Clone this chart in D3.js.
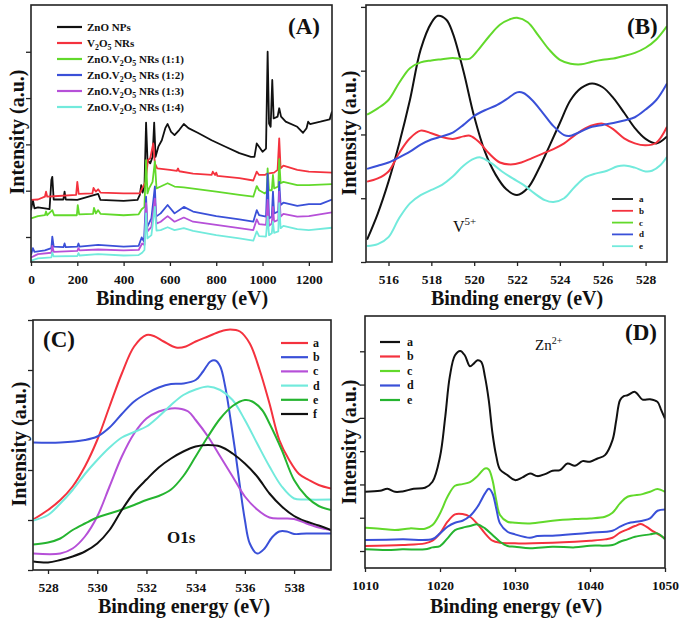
<!DOCTYPE html>
<html><head><meta charset="utf-8">
<script src="https://cdn.jsdelivr.net/npm/d3@7"></script>
<style>
body{margin:0;background:#fff}
svg{display:block}
text{font-family:"Liberation Serif","Times New Roman",serif;}
</style>
</head><body>
<svg id="chart" width="685" height="618"></svg>
<script>
// ---------- Panel A : survey spectra (Binding energy eV, intensity a.u.) ----------
const A_xTicks = [0,200,400,600,800,1000,1200];
const A_yTicks = [0,1,2,3,4];
const A_ZnO = [[0,0.58],[8,0.80],[15,0.62],[30,0.64],[60,0.62],[80,0.60],[88,1.23],[92,1.30],[98,0.81],[140,0.81],[145,0.98],[150,0.81],[200,0.80],[290,0.93],[300,0.80],[400,0.78],[460,0.80],[470,0.91],[476,1.12],[482,0.96],[490,1.09],[497,2.47],[503,1.66],[515,1.59],[525,1.73],[532,2.47],[538,1.73],[550,1.95],[565,2.09],[580,2.35],[590,2.44],[605,2.27],[620,2.20],[640,2.31],[660,2.44],[680,2.35],[720,2.25],[780,2.09],[840,1.95],[900,1.81],[950,1.73],[965,1.73],[975,2.02],[985,1.95],[1000,1.84],[1015,1.91],[1022,4.0],[1028,2.45],[1035,2.38],[1042,3.39],[1048,2.56],[1065,2.60],[1072,2.78],[1080,2.60],[1100,2.49],[1150,2.38],[1175,2.25],[1190,2.35],[1197,2.49],[1205,2.44],[1250,2.49],[1290,2.54],[1300,2.71]];
const A_V2O5 = [[0,0.80],[30,0.81],[60,0.87],[65,0.98],[70,0.87],[100,0.88],[195,0.91],[200,1.19],[206,0.93],[265,0.94],[270,1.06],[280,0.98],[290,1.03],[300,0.96],[400,0.94],[470,0.94],[480,1.05],[495,1.19],[505,1.66],[515,1.70],[528,2.02],[535,1.59],[545,1.48],[600,1.45],[630,1.43],[635,1.48],[640,1.42],[700,1.37],[780,1.34],[785,1.41],[795,1.34],[800,1.39],[805,1.32],[900,1.27],[960,1.22],[975,1.41],[985,1.34],[1010,1.34],[1020,1.37],[1050,1.39],[1065,1.45],[1072,2.13],[1078,1.48],[1090,1.54],[1150,1.45],[1200,1.41],[1300,1.39]];
const A_R11 = [[0,0.40],[30,0.45],[60,0.47],[65,0.55],[70,0.47],[92,0.58],[100,0.47],[198,0.47],[202,0.69],[208,0.49],[268,0.50],[272,0.63],[280,0.51],[290,0.58],[300,0.50],[400,0.47],[465,0.49],[478,0.60],[490,0.65],[497,1.66],[503,0.94],[510,1.05],[525,1.19],[535,1.63],[542,1.05],[560,1.09],[590,1.16],[620,1.09],[660,1.07],[800,0.98],[900,0.91],[960,0.87],[975,1.10],[985,1.01],[1010,0.94],[1018,0.98],[1022,1.48],[1028,1.01],[1040,1.01],[1045,1.34],[1050,1.05],[1068,1.09],[1072,1.68],[1078,1.16],[1090,1.19],[1150,1.12],[1200,1.12],[1300,1.14]];
const A_R12 = [[0,-0.39],[8,-0.24],[15,-0.32],[60,-0.29],[88,-0.24],[92,0.01],[98,-0.21],[140,-0.22],[145,-0.14],[150,-0.22],[200,-0.21],[205,-0.14],[210,-0.21],[290,-0.17],[400,-0.21],[465,-0.19],[478,-0.01],[488,-0.10],[497,0.87],[502,0.22],[520,0.40],[535,1.09],[540,0.44],[560,0.51],[590,0.69],[620,0.51],[660,0.65],[700,0.55],[800,0.45],[900,0.38],[960,0.33],[975,0.58],[985,0.47],[1015,0.44],[1022,1.37],[1028,0.40],[1040,0.44],[1045,0.98],[1050,0.51],[1068,0.55],[1072,1.19],[1078,0.69],[1090,0.74],[1150,0.67],[1200,0.71],[1250,0.71],[1300,0.81]];
const A_R13 = [[0,-0.44],[30,-0.37],[88,-0.34],[92,-0.19],[98,-0.32],[200,-0.30],[205,-0.24],[210,-0.29],[290,-0.27],[400,-0.29],[465,-0.28],[480,-0.14],[490,-0.17],[497,0.73],[503,0.12],[520,0.22],[535,0.83],[542,0.29],[560,0.33],[590,0.45],[620,0.33],[660,0.42],[700,0.33],[800,0.26],[900,0.19],[960,0.15],[975,0.38],[985,0.28],[1015,0.26],[1022,0.80],[1028,0.24],[1040,0.29],[1045,0.65],[1050,0.33],[1068,0.37],[1072,0.98],[1078,0.44],[1090,0.50],[1150,0.44],[1200,0.45],[1300,0.53]];
const A_R14 = [[0,-0.51],[30,-0.46],[88,-0.44],[92,-0.34],[98,-0.42],[200,-0.41],[205,-0.35],[210,-0.40],[290,-0.37],[400,-0.40],[465,-0.39],[480,-0.34],[490,-0.28],[497,0.51],[503,-0.03],[520,0.04],[535,0.65],[542,0.14],[560,0.15],[590,0.21],[620,0.15],[660,0.19],[700,0.13],[800,0.04],[900,-0.03],[960,-0.08],[975,0.12],[985,0.02],[1015,0.01],[1022,0.44],[1028,0.04],[1040,0.08],[1045,0.33],[1050,0.09],[1068,0.12],[1072,0.73],[1078,0.19],[1090,0.24],[1150,0.17],[1200,0.15],[1300,0.20]];
const A_legend = ["ZnO NPs","V|2|O|5| NRs","ZnO.V|2|O|5| NRs (1:1)","ZnO.V|2|O|5| NRs (1:2)","ZnO.V|2|O|5| NRs (1:3)","ZnO.V|2|O|5| NRs (1:4)"];

// ---------- Panel B : V 2p ----------
const B_xTicks = [516,518,520,522,524,526,528];
const B_yTicks = [0,1,2,3,4];
const B_a = [[515.0,0.35],[515.5,0.76],[516.0,1.26],[516.5,1.86],[517.0,2.54],[517.5,3.33],[518.0,3.75],[518.3,3.86],[518.7,3.80],[519.0,3.59],[519.5,2.99],[520.0,2.28],[520.5,1.73],[521.0,1.37],[521.5,1.14],[522.0,1.05],[522.5,1.16],[523.0,1.45],[523.5,1.81],[524.0,2.18],[524.5,2.54],[525.0,2.73],[525.5,2.80],[526.0,2.74],[526.5,2.57],[527.0,2.34],[527.5,2.10],[528.0,1.93],[528.5,1.86],[529.0,1.97]];
const B_b = [[515.0,1.26],[515.5,1.31],[516.0,1.42],[516.5,1.71],[517.0,1.94],[517.5,2.06],[518.0,2.02],[518.5,1.96],[519.0,1.93],[519.5,1.97],[519.8,1.98],[520.2,1.89],[520.7,1.70],[521.2,1.56],[521.7,1.53],[522.2,1.56],[522.7,1.63],[523.2,1.70],[523.7,1.77],[524.2,1.86],[524.7,1.99],[525.2,2.10],[525.7,2.16],[526.0,2.17],[526.5,2.08],[527.0,1.94],[527.5,1.86],[528.0,1.83],[528.5,1.87],[529.0,2.12]];
const B_c = [[515.0,2.31],[515.5,2.41],[516.0,2.54],[516.5,2.81],[517.0,3.04],[517.5,3.13],[518.0,3.16],[518.5,3.18],[519.0,3.20],[519.5,3.18],[519.8,3.19],[520.2,3.33],[520.7,3.54],[521.2,3.72],[521.7,3.81],[522.0,3.83],[522.5,3.76],[523.0,3.55],[523.5,3.33],[524.0,3.17],[524.5,3.11],[525.0,3.10],[525.5,3.14],[526.0,3.17],[526.5,3.19],[527.0,3.23],[527.5,3.28],[528.0,3.36],[528.5,3.49],[529.0,3.70]];
const B_d = [[515.0,1.46],[515.5,1.51],[516.0,1.56],[516.5,1.64],[517.0,1.73],[517.5,1.84],[518.0,1.92],[518.5,1.97],[519.0,2.03],[519.5,2.15],[520.0,2.29],[520.5,2.38],[521.0,2.45],[521.5,2.55],[522.0,2.66],[522.3,2.65],[522.7,2.54],[523.2,2.34],[523.7,2.13],[524.2,1.99],[524.5,1.98],[525.0,2.05],[525.5,2.12],[526.0,2.15],[526.5,2.18],[527.0,2.22],[527.5,2.27],[528.0,2.39],[528.5,2.54],[529.0,2.80]];
const B_e = [[515.0,0.25],[515.5,0.28],[516.0,0.39],[516.5,0.69],[517.0,0.92],[517.5,1.05],[518.0,1.13],[518.5,1.21],[519.0,1.34],[519.5,1.51],[520.0,1.62],[520.3,1.64],[520.8,1.55],[521.3,1.42],[521.8,1.31],[522.3,1.21],[522.8,1.08],[523.3,0.97],[523.7,0.94],[524.2,1.00],[524.7,1.18],[525.2,1.33],[525.7,1.39],[526.2,1.43],[526.7,1.50],[527.1,1.51],[527.5,1.48],[528.0,1.42],[528.3,1.43],[528.7,1.52],[529.0,1.65]];
const B_legend = ["a","b","c","d","e"];

// ---------- Panel C : O 1s ----------
const C_xTicks = [528,530,532,534,536,538];
const C_yTicks = [0,1,2,3,4,5];
const C_a = [[527.4,1.01],[528.0,1.20],[528.5,1.40],[529.0,1.67],[529.5,2.07],[530.0,2.60],[530.5,3.27],[531.0,3.93],[531.5,4.47],[532.0,4.70],[532.3,4.68],[532.7,4.57],[533.2,4.45],[533.6,4.47],[534.0,4.57],[534.5,4.67],[535.0,4.77],[535.4,4.81],[535.8,4.77],[536.2,4.53],[536.6,4.00],[537.0,3.33],[537.4,2.60],[537.8,2.20],[538.2,1.92],[538.6,1.80],[539.0,1.70],[539.5,1.63]];
const C_b = [[527.4,2.55],[528.5,2.55],[529.5,2.60],[530.0,2.67],[530.5,2.85],[531.0,3.12],[531.5,3.37],[532.0,3.53],[532.5,3.65],[533.0,3.72],[533.5,3.73],[534.0,3.80],[534.3,3.97],[534.6,4.17],[534.8,4.19],[535.0,4.07],[535.2,3.67],[535.4,3.07],[535.6,2.40],[535.8,1.67],[536.0,1.00],[536.2,0.53],[536.5,0.33],[536.8,0.43],[537.1,0.65],[537.4,0.77],[537.7,0.77],[538.0,0.72],[538.5,0.73],[539.5,0.73]];
const C_c = [[527.4,0.33],[528.5,0.33],[529.0,0.43],[529.5,0.67],[530.0,1.07],[530.5,1.67],[531.0,2.27],[531.5,2.73],[532.0,3.03],[532.5,3.17],[533.0,3.23],[533.3,3.23],[533.7,3.17],[534.0,3.00],[534.5,2.67],[535.0,2.27],[535.5,1.87],[536.0,1.47],[536.5,1.21],[537.0,1.05],[537.5,1.03],[538.0,1.02],[538.5,0.93],[539.0,0.85],[539.5,0.80]];
const C_d = [[527.4,0.99],[528.0,1.10],[528.5,1.33],[529.0,1.60],[529.5,1.92],[530.0,2.20],[530.5,2.45],[531.0,2.65],[531.5,2.76],[532.0,2.87],[532.5,3.07],[533.0,3.30],[533.5,3.50],[534.0,3.61],[534.5,3.67],[535.0,3.60],[535.5,3.40],[536.0,3.00],[536.5,2.53],[537.0,2.07],[537.5,1.67],[538.0,1.43],[538.5,1.41],[539.5,1.41]];
const C_e = [[527.4,0.51],[528.0,0.55],[528.5,0.63],[529.0,0.80],[529.5,0.93],[530.0,1.05],[530.5,1.13],[531.0,1.21],[531.5,1.30],[532.0,1.40],[532.5,1.48],[533.0,1.61],[533.5,1.88],[534.0,2.27],[534.5,2.67],[535.0,3.03],[535.5,3.28],[536.0,3.40],[536.3,3.37],[536.7,3.20],[537.0,2.93],[537.5,2.40],[538.0,1.80],[538.5,1.47],[539.0,1.28],[539.5,1.20]];
const C_f = [[527.4,0.17],[528.0,0.15],[528.5,0.20],[529.0,0.27],[529.5,0.37],[530.0,0.53],[530.5,0.80],[531.0,1.20],[531.5,1.55],[532.0,1.81],[532.5,2.05],[533.0,2.23],[533.5,2.37],[534.0,2.47],[534.5,2.50],[535.0,2.47],[535.5,2.33],[536.0,2.13],[536.5,1.87],[537.0,1.53],[537.5,1.27],[538.0,1.08],[538.5,0.97],[539.0,0.89],[539.5,0.80]];
const C_legend = ["a","b","c","d","e","f"];

// ---------- Panel D : Zn 2p ----------
const D_xTicks = [1010,1020,1030,1040,1050];
const D_yTicks = [0,1,2,3,4,5,6];
const D_a = [[1010,1.78],[1012,1.81],[1013,1.87],[1014,1.78],[1015,1.79],[1016.5,1.87],[1018,1.90],[1019,2.08],[1020,2.83],[1020.7,4.03],[1021.3,5.23],[1022,5.88],[1022.7,6.01],[1023.3,5.88],[1024,5.55],[1024.5,5.63],[1025,5.73],[1025.5,5.68],[1026,5.23],[1026.5,4.53],[1027,3.53],[1027.5,2.85],[1028,2.45],[1029,2.28],[1030,2.13],[1031,2.21],[1032,2.33],[1033,2.25],[1034,2.31],[1035,2.41],[1036,2.43],[1037,2.63],[1038,2.56],[1039,2.70],[1040,2.68],[1041,2.78],[1042,2.88],[1043,3.33],[1043.5,3.93],[1044,4.53],[1044.5,4.65],[1045,4.68],[1046,4.78],[1047,4.55],[1048,4.56],[1049,4.48],[1049.5,4.23],[1050,3.98]];
const D_b = [[1010,0.15],[1015,0.18],[1018,0.23],[1019,0.31],[1020,0.53],[1021,0.88],[1022,1.10],[1023,1.11],[1024,1.03],[1025,0.81],[1026,0.53],[1027,0.31],[1028,0.25],[1030,0.23],[1035,0.25],[1038,0.28],[1040,0.31],[1042,0.35],[1043,0.40],[1044,0.55],[1045,0.65],[1046,0.75],[1046.8,0.81],[1047.5,0.73],[1048.5,0.58],[1049.5,0.45],[1050,0.38]];
const D_c = [[1010,0.70],[1012,0.67],[1014,0.63],[1016,0.68],[1018,0.67],[1019,0.78],[1020,1.13],[1021,1.63],[1022,1.96],[1023,2.01],[1024,2.07],[1025,2.25],[1026,2.48],[1026.5,2.45],[1027,2.13],[1027.5,1.53],[1028,1.08],[1029,0.88],[1030,0.85],[1032,0.83],[1035,0.91],[1038,0.96],[1040,0.98],[1042,1.03],[1043,1.15],[1044,1.43],[1045,1.63],[1047,1.71],[1048,1.78],[1049,1.86],[1050,1.78]];
const D_d = [[1010,0.33],[1015,0.35],[1019,0.36],[1020,0.53],[1021,0.73],[1022,0.85],[1023,0.91],[1024,1.05],[1025,1.33],[1026,1.73],[1026.5,1.87],[1027,1.73],[1027.5,1.28],[1028,0.83],[1029,0.58],[1030,0.50],[1032,0.40],[1033,0.45],[1035,0.46],[1038,0.51],[1040,0.55],[1043,0.61],[1044,0.73],[1045,0.83],[1047,0.91],[1048,0.98],[1049,1.21],[1050,1.25]];
const D_e = [[1010,0.05],[1013,0.03],[1015,0.05],[1018,0.05],[1019,0.11],[1020,0.15],[1021,0.38],[1022,0.63],[1023,0.70],[1024,0.75],[1025,0.80],[1026,0.68],[1027,0.48],[1028,0.28],[1029,0.15],[1030,0.13],[1032,0.08],[1035,0.13],[1038,0.11],[1040,0.16],[1043,0.18],[1044,0.28],[1045,0.35],[1046,0.43],[1048,0.50],[1049,0.53],[1050,0.35]];
const D_legend = ["a","b","c","d","e"];

// ---------- colours ----------
const BLACK="#111111", RED="#f4323e", LIME="#62d92b", BLUE="#3a50d8", MAGENTA="#b650d8", CYAN="#72eadc", GREEN="#25b430";

const svg = d3.select("#chart");
const defs = svg.append("defs");

function richText(sel, str, size){
  // segments separated by | ; odd segments are subscripts
  const parts = str.split("|");
  let lowered = false;
  parts.forEach((p,i)=>{
    if(!p) return;
    const t = sel.append("tspan").text(p);
    if(i%2===1){
      t.attr("dy", lowered ? 0 : size*0.3).attr("font-size", size*0.72);
      lowered = true;
    } else {
      if(lowered){ t.attr("dy", -size*0.3); lowered = false; }
    }
  });
}

function panel(cfg){
  const {box, xDom, yDom, xTicks, yTicks, series, curve, id} = cfg;
  const x = d3.scaleLinear().domain(xDom).range([box.l, box.r]);
  const y = d3.scaleLinear().domain(yDom).range([box.b, box.t]);
  const g = svg.append("g");
  defs.append("clipPath").attr("id","clip"+id).append("rect")
    .attr("x",box.l).attr("y",box.t).attr("width",box.r-box.l).attr("height",box.b-box.t);
  const line = d3.line().x(d=>x(d[0])).y(d=>y(d[1])).curve(curve);
  const cg = g.append("g").attr("clip-path","url(#clip"+id+")");
  series.forEach(s=>{
    cg.append("path").datum(s.data).attr("d",line).attr("fill","none")
      .attr("stroke",s.color).attr("stroke-width",s.w||2).attr("stroke-linejoin","round");
  });
  // axes
  const xa = g.append("g").attr("transform",`translate(0,${box.b})`)
    .call(d3.axisBottom(x).tickValues(xTicks).tickSize(4).tickPadding(8).tickFormat(d3.format("d")));
  xa.select(".domain").remove();
  xa.selectAll("line").attr("stroke","#222").attr("stroke-width",1.3);
  xa.selectAll("text").attr("font-family","Liberation Serif, serif").attr("font-weight","bold")
    .attr("font-size",13.5).attr("fill","#111");
  const ya = g.append("g").attr("transform",`translate(${box.l},0)`)
    .call(d3.axisLeft(y).tickValues(yTicks).tickSize(5).tickFormat(""));
  ya.select(".domain").remove();
  ya.selectAll("line").attr("stroke","#222").attr("stroke-width",1.3);
  g.append("rect").attr("x",box.l).attr("y",box.t).attr("width",box.r-box.l).attr("height",box.b-box.t)
    .attr("fill","none").attr("stroke","#222").attr("stroke-width",1.6);
  // titles
  g.append("text").attr("x",cfg.xt[0]).attr("y",cfg.xt[1]).attr("text-anchor","middle")
    .attr("font-weight","bold").attr("font-size",20).attr("fill","#111").text("Binding energy (eV)");
  g.append("text").attr("transform",`translate(${cfg.yt[0]},${cfg.yt[1]}) rotate(-90)`).attr("text-anchor","middle")
    .attr("font-weight","bold").attr("font-size",20).attr("fill","#111").text("Intensity (a.u.)");
  g.append("text").attr("x",cfg.lab[0]).attr("y",cfg.lab[1]).attr("font-weight","bold")
    .attr("font-size",23).attr("fill","#111").text(cfg.label);
  // legend
  const L = cfg.legend;
  L.names.forEach((n,i)=>{
    const yy = L.y + i*L.dy;
    g.append("line").attr("x1",L.x).attr("x2",L.x+L.len).attr("y1",yy).attr("y2",yy)
      .attr("stroke",series[i].color).attr("stroke-width",L.sw||2.2);
    const t = g.append("text").attr("x",L.x+L.len+L.gap).attr("y",yy+L.fs*0.33)
      .attr("font-weight","bold").attr("font-size",L.fs).attr("fill","#111");
    richText(t,n,L.fs);
  });
  return {x,y,g};
}

// Panel A
const pA = panel({id:"A", box:{l:31,r:332,t:5,b:262}, xDom:[0,1300], yDom:[-0.54,5.01],
  xTicks:A_xTicks, yTicks:A_yTicks, curve:d3.curveLinear,
  series:[{data:A_ZnO,color:BLACK,w:1.8},{data:A_V2O5,color:RED,w:1.8},{data:A_R11,color:LIME,w:1.8},
          {data:A_R12,color:BLUE,w:1.8},{data:A_R13,color:MAGENTA,w:1.8},{data:A_R14,color:CYAN,w:1.8}],
  xt:[182,305], yt:[24,132], lab:[288,34], label:"(A)",
  legend:{names:A_legend,x:57,y:27,dy:16,len:25,gap:5,fs:11}});

// Panel B
const pB = panel({id:"B", box:{l:366,r:667,t:5,b:262}, xDom:[514.95,529], yDom:[0,4.03],
  xTicks:B_xTicks, yTicks:B_yTicks, curve:d3.curveCatmullRom.alpha(0.5),
  series:[{data:B_a,color:BLACK},{data:B_b,color:RED},{data:B_c,color:LIME},{data:B_d,color:BLUE},{data:B_e,color:CYAN}],
  xt:[517,305], yt:[356,133], lab:[627,34], label:"(B)",
  legend:{names:B_legend,x:612,y:199,dy:11.8,len:21,gap:6,fs:9,sw:1.8}});
const v5 = pB.g.append("text").attr("x",453).attr("y",232).attr("font-size",16).attr("fill","#111");
v5.append("tspan").text("V");
v5.append("tspan").attr("dy",-7).attr("font-size",11).text("5+");

// Panel C
const pC = panel({id:"C", box:{l:33,r:331,t:320,b:570}, xDom:[527.39,539.5], yDom:[0,5],
  xTicks:C_xTicks, yTicks:C_yTicks, curve:d3.curveCatmullRom.alpha(0.5),
  series:[{data:C_a,color:RED},{data:C_b,color:BLUE},{data:C_c,color:MAGENTA},{data:C_d,color:CYAN},{data:C_e,color:GREEN},{data:C_f,color:BLACK}],
  xt:[184,613], yt:[26,444], lab:[43,347], label:"(C)",
  legend:{names:C_legend,x:281,y:343,dy:14.2,len:27,gap:5,fs:12}});
pC.g.append("text").attr("x",167).attr("y",543).attr("font-size",17).attr("font-weight","bold").attr("fill","#111").text("O1s");

// Panel D
const pD = panel({id:"D", box:{l:365,r:665,t:316,b:568}, xDom:[1010,1050], yDom:[-0.51,7.06],
  xTicks:D_xTicks, yTicks:D_yTicks, curve:d3.curveCatmullRom.alpha(0.5),
  series:[{data:D_a,color:BLACK},{data:D_b,color:RED},{data:D_c,color:LIME},{data:D_d,color:BLUE},{data:D_e,color:GREEN}],
  xt:[516,613], yt:[356,442], lab:[625,340], label:"(D)",
  legend:{names:D_legend,x:380,y:342,dy:14.5,len:20,gap:7,fs:12}});
const zn = pD.g.append("text").attr("x",535).attr("y",350).attr("font-size",15).attr("fill","#111");
zn.append("tspan").text("Zn");
zn.append("tspan").attr("dy",-6).attr("font-size",10).text("2+");
</script>
</body></html>
